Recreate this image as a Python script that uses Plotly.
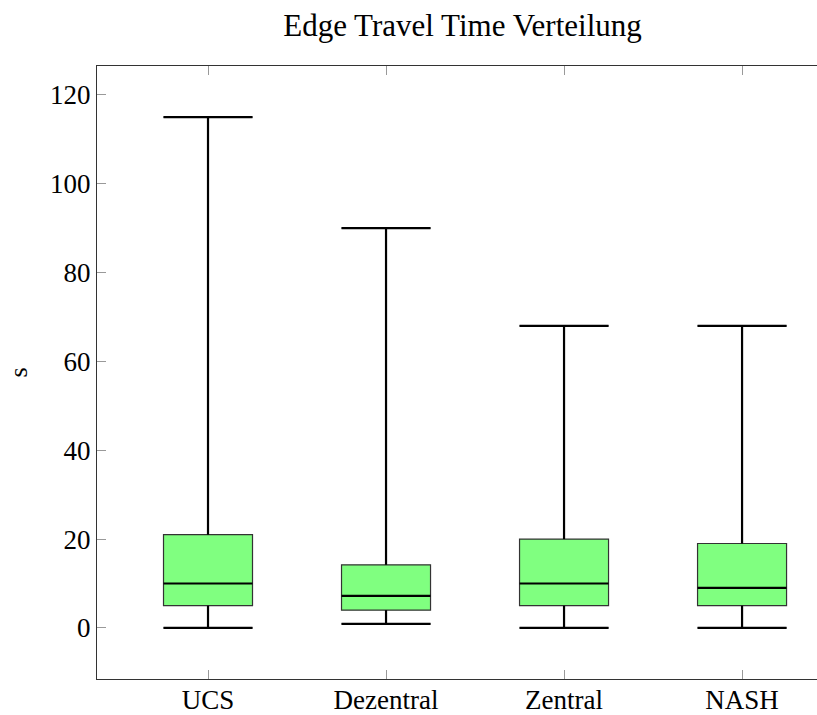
import plotly.graph_objects as go

categories = ["UCS", "Dezentral", "Zentral", "NASH"]
lower_whisker = [0, 0.9, 0, 0]
q1_values = [5, 4, 5, 5]
median_values = [10, 7.2, 10, 9]
q3_values = [21, 14.2, 20, 19]
upper_whisker = [115, 90, 68, 68]
y_ticks = [0, 20, 40, 60, 80, 100, 120]

positions = list(range(1, len(categories) + 1))
box_width = 0.5
half = box_width / 2
serif = "Liberation Serif, DejaVu Serif, serif"

W, H = 817, 715
L, T, B = 97, 66, 36
plot_w = W - L

fig = go.Figure()
fig.add_trace(go.Box(
    x=positions, q1=q1_values, median=median_values, q3=q3_values,
    lowerfence=lower_whisker, upperfence=upper_whisker,
    width=box_width, whiskerwidth=1,
    fillcolor="#80ff80", line=dict(color="#333333", width=1.2),
    boxpoints=False, hoverinfo="skip", showlegend=False,
))

# thick median and whisker lines drawn from the same statistics
lx, ly = [], []
for p, lo, a, m, b, hi in zip(positions, lower_whisker, q1_values, median_values, q3_values, upper_whisker):
    lx += [p - half, p + half, None]; ly += [m, m, None]
    lx += [p, p, None]; ly += [b, hi, None]
    lx += [p - half, p + half, None]; ly += [hi, hi, None]
    lx += [p, p, None]; ly += [lo, a, None]
    lx += [p - half, p + half, None]; ly += [lo, lo, None]
fig.add_trace(go.Scatter(x=lx, y=ly, mode="lines", line=dict(color="black", width=2.2),
                         hoverinfo="skip", showlegend=False))

fig.update_layout(
    width=W, height=H,
    margin=dict(l=L, r=0, t=T, b=B, autoexpand=False),
    plot_bgcolor="white", paper_bgcolor="white",
    font=dict(family=serif, color="black"),
    title=dict(text="Edge Travel Time Verteilung", x=462.5 / W, xanchor="center",
               yref="container", y=1 - 25 / H, yanchor="middle",
               font=dict(family=serif, size=31, color="black")),
    xaxis=dict(range=[0.3764, 4.421], tickvals=positions, ticktext=categories,
               ticks="inside", ticklen=9, tickcolor="#999999", tickwidth=1,
               showline=True, linecolor="#333333", linewidth=1, mirror="allticks",
               showgrid=False, zeroline=False, automargin=False,
               ticklabelstandoff=-3,
               tickfont=dict(size=27, family=serif)),
    yaxis=dict(range=[-11.5, 126.5], tickvals=y_ticks,
               ticks="inside", ticklen=9, tickcolor="#999999", tickwidth=1,
               showline=True, linecolor="#333333", linewidth=1, mirror=False,
               showgrid=False, zeroline=False, automargin=False,
               tickfont=dict(size=27, family=serif)),
    annotations=[dict(text="s", xref="paper", yref="paper", x=-(L - 18) / plot_w, y=0.5,
                      textangle=-90, showarrow=False, xanchor="center", yanchor="middle",
                      font=dict(family=serif, size=26, color="black"))],
)

fig.write_html(
    "out.html",
    config={"displayModeBar": False},
    post_script="document.body.style.margin='0';document.documentElement.style.overflow='hidden';",
)
